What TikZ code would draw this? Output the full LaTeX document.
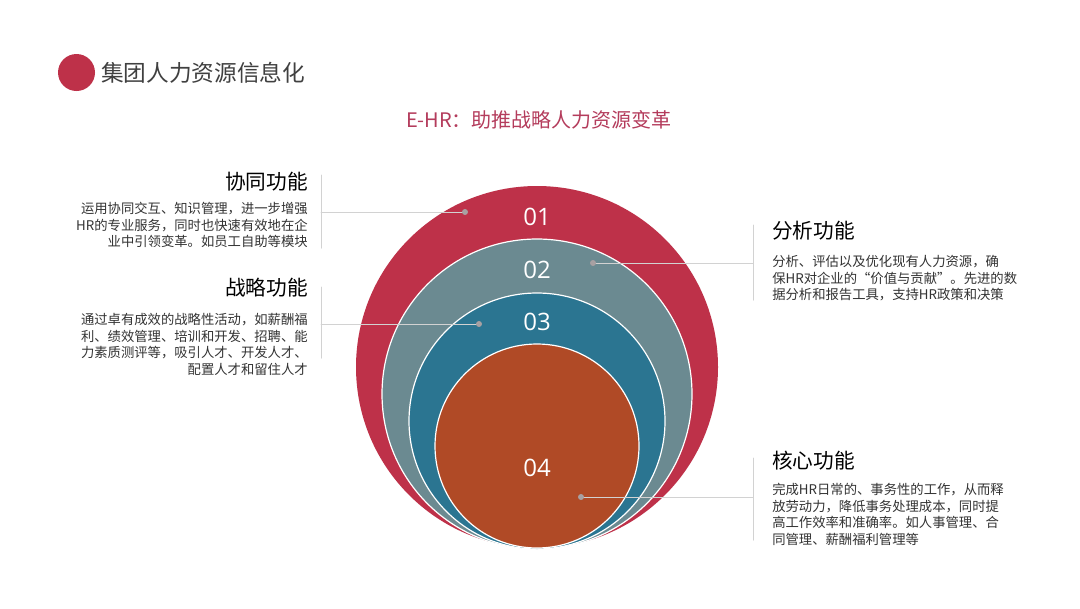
\documentclass[tikz,border=0pt]{standalone}
\usepackage{fontspec}
\setmainfont{Noto Sans CJK SC}
\newfontfamily\digitfont{Open Sans}
\definecolor{ringred}{HTML}{BE3149}
\definecolor{ringgray}{HTML}{6B8A91}
\definecolor{ringteal}{HTML}{2B7591}
\definecolor{ringorange}{HTML}{B04A26}
\definecolor{ink}{HTML}{333333}
\definecolor{titleink}{HTML}{404040}
\definecolor{subred}{HTML}{B43C5C}
\definecolor{rule}{HTML}{D2D2D2}
\definecolor{dotgray}{HTML}{A8A0A2}

\begin{document}
\begin{tikzpicture}[
  x=0.75pt, y=-0.75pt,
  line cap=round,
  line join=round,
  heading/.style={font=\fontsize{15.5}{18}\selectfont, text=black, inner sep=0pt},
  body/.style={font=\fontsize{10}{12.4}\selectfont, text=ink, inner sep=0pt},
  ringno/.style={font=\digitfont\fontsize{18}{20}\selectfont, text=white},
  leader/.style={rule, line width=0.75pt}
]
  \useasboundingbox[fill=white] (0,0) rectangle (1080,608);

  % title
  \fill[ringred] (76.5,72.5) circle (18.5);
  \node[anchor=west, text=titleink, font=\fontsize{17}{20}\selectfont, inner sep=0pt]
    (title) at (101,73) {集团人力资源信息化};
  \node[text=subred, font=\fontsize{15}{18}\selectfont, inner sep=0pt]
    (subtitle) at (539,120) {E-HR：助推战略人力资源变革};

  % nested circles, all touching at the bottom
  \fill[ringred] (537,367) circle (181);
  \filldraw[ringgray, draw=white, line width=0.9pt] (537,394) circle (155);
  \filldraw[ringteal, draw=white, line width=0.9pt] (537,421) circle (128);
  \filldraw[ringorange, draw=white, line width=0.9pt] (537,446) circle (102);

  \node[ringno] (n01) at (537,217) {01};
  \node[ringno] (n02) at (537,270) {02};
  \node[ringno] (n03) at (537,322) {03};
  \node[ringno] (n04) at (537,468) {04};

  % dots on the rings
  \coordinate (d1) at (465,212);
  \coordinate (d2) at (593,263);
  \coordinate (d3) at (479,324);
  \coordinate (d4) at (581,497);

  \coordinate (e1) at (321,212);
  \coordinate (e2) at (753,263);
  \coordinate (e3) at (321,324);
  \coordinate (e4) at (753,497);

  % side rules
  \draw[leader] (321,175) -- (321,248);
  \draw[leader] (321,287) -- (321,358);
  \draw[leader] (753,225) -- (753,300);
  \draw[leader] (753,458) -- (753,540);

  \draw[leader] (d1) -- (e1);
  \draw[leader] (d2) -- (e2);
  \draw[leader] (d3) -- (e3);
  \draw[leader] (d4) -- (e4);

  \fill[dotgray] (d1) circle (3);
  \fill[dotgray] (d2) circle (3);
  \fill[dotgray] (d3) circle (3);
  \fill[dotgray] (d4) circle (3);

  % left texts
  \node[heading, anchor=east] (h1) at (308,182) {协同功能};
  \node[body, anchor=north east, align=right] (b1) at (308,202)
    {运用协同交互、知识管理，进一步增强\\HR的专业服务，同时也快速有效地在企\\业中引领变革。如员工自助等模块};

  \node[heading, anchor=east] (h2) at (308,288) {战略功能};
  \node[body, anchor=north east, align=right] (b2) at (308,313)
    {通过卓有成效的战略性活动，如薪酬福\\利、绩效管理、培训和开发、招聘、能\\力素质测评等，吸引人才、开发人才、\\配置人才和留住人才};

  % right texts
  \node[heading, anchor=west] (h3) at (772,231) {分析功能};
  \node[body, anchor=north west, align=left] (b3) at (772,255)
    {分析、评估以及优化现有人力资源，确\\保HR对企业的“价值与贡献”。先进的数\\据分析和报告工具，支持HR政策和决策};

  \node[heading, anchor=west] (h4) at (772,461) {核心功能};
  \node[body, anchor=north west, align=left] (b4) at (772,483)
    {完成HR日常的、事务性的工作，从而释\\放劳动力，降低事务处理成本，同时提\\高工作效率和准确率。如人事管理、合\\同管理、薪酬福利管理等};
\end{tikzpicture}
\end{document}
